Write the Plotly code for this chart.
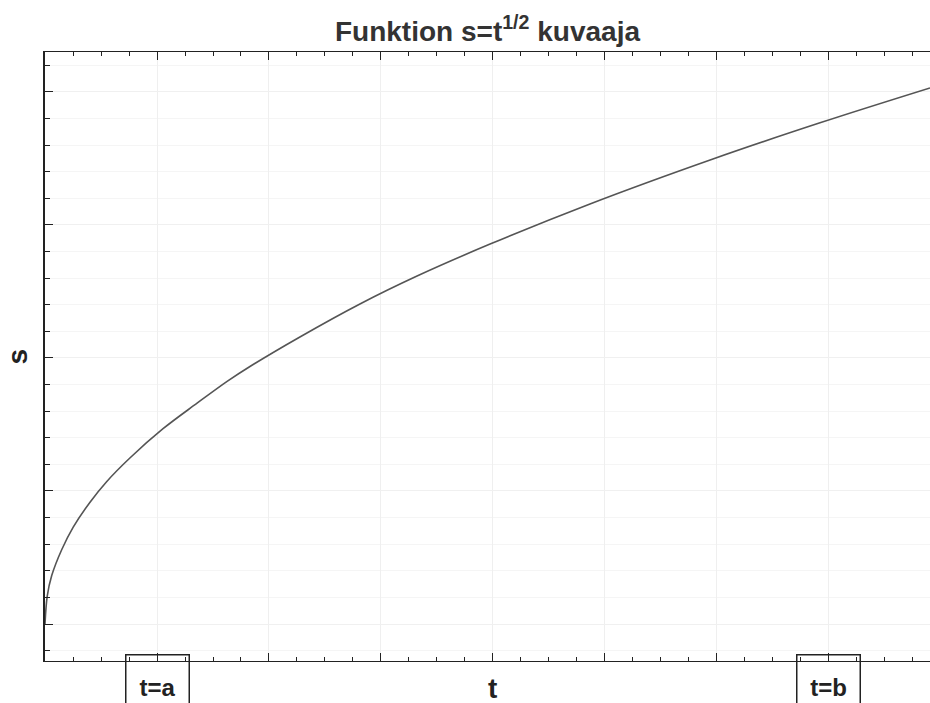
import plotly.graph_objects as go

# Curve points (t, s)
t_vals = [0.0, 0.010, 0.030, 0.075, 0.126, 0.201, 0.275, 0.379, 0.527, 0.679,
          0.813, 0.915, 1.138, 1.406, 1.661, 1.987, 2.433, 2.982, 3.460, 3.951]
s_vals = [0.0, 0.105, 0.182, 0.280, 0.364, 0.458, 0.535, 0.624, 0.734, 0.830,
          0.912, 0.968, 1.079, 1.203, 1.308, 1.428, 1.579, 1.748, 1.884, 2.015]

marker_labels = ["t=a", "t=b"]
marker_t = [0.5, 3.5]

title_text = "Funktion s=t<sup>1/2</sup> kuvaaja"
x_label = "t"
y_label = "s"

FONT = "Liberation Sans, Arial, sans-serif"
AX = "#222222"

fig = go.Figure()
fig.add_trace(go.Scatter(x=t_vals, y=s_vals, mode="lines",
                         line=dict(color="#555555", width=1.6, shape="spline", smoothing=1.0),
                         hoverinfo="skip", showlegend=False))

fig.update_xaxes(range=[0, 3.951], tick0=0, dtick=0.5, ticks="inside", ticklen=8,
                 tickcolor=AX, tickwidth=1, showticklabels=False,
                 showline=True, linecolor=AX, linewidth=1.3, mirror="ticks",
                 showgrid=True, gridcolor="#efefef", gridwidth=1, zeroline=False,
                 minor=dict(tick0=0, dtick=0.125, ticks="inside", ticklen=4,
                            tickcolor=AX, showgrid=False))
fig.update_yaxes(range=[-0.139, 2.150], tick0=0, dtick=0.5, ticks="inside", ticklen=8,
                 tickcolor=AX, tickwidth=1, showticklabels=False,
                 showline=True, linecolor=AX, linewidth=1.5, mirror=False,
                 showgrid=True, gridcolor="#f0f0f0", gridwidth=1, zeroline=False,
                 minor=dict(tick0=0, dtick=0.1, ticks="inside", ticklen=5,
                            tickcolor=AX, showgrid=True, gridcolor="#f5f5f5"))

annotations = []
for lab, tv in zip(marker_labels, marker_t):
    annotations.append(dict(x=tv, xref="x", y=0, yref="paper", yanchor="top",
                            yshift=7, text="<b>%s</b>" % lab, showarrow=False,
                            font=dict(family=FONT, size=24, color="#222"),
                            bordercolor="#222", borderwidth=1.5, borderpad=1,
                            width=60, height=62, valign="middle", align="center"))
annotations.append(dict(x=2.0, xref="x", y=0, yref="paper", yanchor="top", yshift=-10,
                        text="<b>%s</b>" % x_label, showarrow=False,
                        font=dict(family=FONT, size=28, color="#222")))
annotations.append(dict(x=0, xref="paper", y=0.5, yref="paper", xanchor="center",
                        xshift=-28, text="<b>%s</b>" % y_label, textangle=-90,
                        showarrow=False, font=dict(family=FONT, size=28, color="#222")))

fig.update_layout(
    width=930, height=703,
    margin=dict(l=45, r=0, t=52, b=42),
    paper_bgcolor="white", plot_bgcolor="white",
    title=dict(text="<b>%s</b>" % title_text, x=0.5, xref="paper", xanchor="center",
               y=1 - 31 / 703, yref="container", yanchor="middle",
               font=dict(family=FONT, size=28, color="#333")),
    annotations=annotations,
)

fig.write_html("out.html", config={"displayModeBar": False},
               post_script="document.body.style.margin='0';document.body.style.overflow='hidden';")
